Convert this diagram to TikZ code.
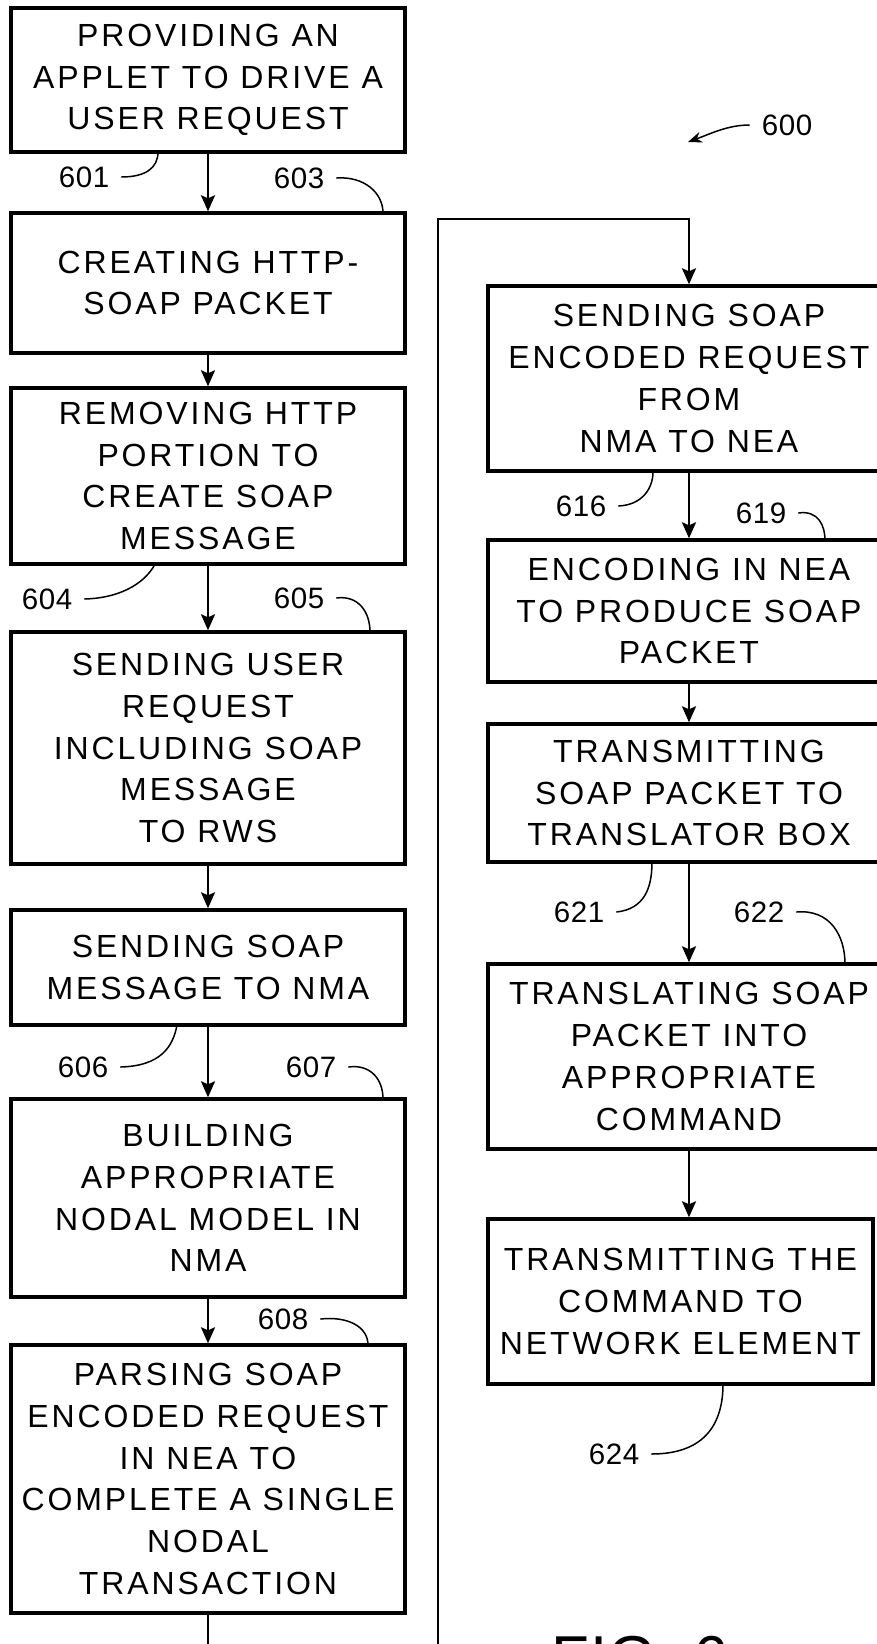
\documentclass[tikz,border=0pt]{standalone}
\usepackage{fontspec}
\setmainfont{Liberation Sans}
\newfontfamily\boxfont{Liberation Sans}[LetterSpace=9]
\newfontfamily\labelfont{Liberation Sans}[LetterSpace=2]
\usetikzlibrary{arrows.meta}
\newcommand{\boxtext}{\boxfont\fontsize{32}{41.7}\selectfont}
\newcommand{\labtext}{\labelfont\fontsize{29.5}{30}\selectfont}
\begin{document}
\begin{tikzpicture}[x=1pt,y=-1pt,
  lbox/.style={draw, line width=3.4pt, minimum width=394pt, align=center, inner sep=0pt, font=\boxtext},
  rbox/.style={draw, line width=3.4pt, minimum width=402pt, align=center, inner sep=0pt, font=\boxtext},
  conn/.style={line width=2.4pt, -{Stealth[length=16pt,width=14pt,inset=3pt]}},
  lab/.style={font=\labtext, inner xsep=12pt, inner ysep=0pt},
  leader/.style={line width=1.5pt}]
\useasboundingbox (0,0) rectangle (877,1644);
% left column
\node[lbox, minimum height=144pt] (b1) at (208,80) {PROVIDING AN\\APPLET TO DRIVE A\\USER REQUEST};
\node[lbox, minimum height=140pt] (b2) at (208,283) {CREATING HTTP-\\SOAP PACKET};
\node[lbox, minimum height=176pt] (b3) at (208,476) {REMOVING HTTP\\PORTION TO\\CREATE SOAP\\MESSAGE};
\node[lbox, minimum height=232pt] (b4) at (208,748) {SENDING USER\\REQUEST\\INCLUDING SOAP\\MESSAGE\\TO RWS};
\node[lbox, minimum height=115pt] (b5) at (208,967.5) {SENDING SOAP\\MESSAGE TO NMA};
\node[lbox, minimum height=198pt] (b6) at (208,1198) {BUILDING\\APPROPRIATE\\NODAL MODEL IN\\NMA};
\node[lbox, minimum height=268pt] (b7) at (208,1479) {PARSING SOAP\\ENCODED REQUEST\\IN NEA TO\\COMPLETE A SINGLE\\NODAL\\TRANSACTION};
% right column
\node[rbox, minimum height=185pt] (r1) at (689,378.5) {SENDING SOAP\\ENCODED REQUEST\\FROM\\NMA TO NEA};
\node[rbox, minimum height=142pt] (r2) at (689,611) {ENCODING IN NEA\\TO PRODUCE SOAP\\PACKET};
\node[rbox, minimum height=138pt] (r3) at (689,793) {TRANSMITTING\\SOAP PACKET TO\\TRANSLATOR BOX};
\node[rbox, minimum height=185pt] (r4) at (689,1056.5) {TRANSLATING SOAP\\PACKET INTO\\APPROPRIATE\\COMMAND};
\node[rbox, minimum height=165pt, minimum width=385pt] (r5) at (680.5,1301.5) {TRANSMITTING THE\\COMMAND TO\\NETWORK ELEMENT};
% flow arrows
\draw[conn] (b1.south) -- (b2.north);
\draw[conn] (b2.south) -- (b3.north);
\draw[conn] (b3.south) -- (b4.north);
\draw[conn] (b4.south) -- (b5.north);
\draw[conn] (b5.south) -- (b6.north);
\draw[conn] (b6.south) -- (b7.north);
\coordinate (c1) at (208,1700);
\coordinate (c2) at (438,1700);
\coordinate (c3) at (438,219);
\coordinate (c4) at (689,219);
\draw[conn] (b7.south) -- (c1) -- (c2) -- (c3) -- (c4) -- (r1.north);
\draw[conn] (r1.south) -- (r2.north);
\draw[conn] (r2.south) -- (r3.north);
\draw[conn] (r3.south) -- (r4.north);
\draw[conn] (r4.south) -- (r4.south |- r5.north);
% reference labels
\node[lab] (t600) at (787,125) {600};
\coordinate (a600) at (688,142);
\draw[line width=1.5pt, -{Stealth[length=14pt,width=11pt]}] (t600.west) .. controls +(-22,0) and +(22,-8) .. (a600);
\node[lab] (t601) at (84,177) {601};
\coordinate (l601) at (158,152);
\draw[leader] (t601.east) .. controls +(24,0) and +(0,16) .. (l601);
\node[lab] (t603) at (299,178) {603};
\coordinate (l603) at (383,213);
\draw[leader] (t603.east) .. controls +(28,-2) and +(0,-20) .. (l603);
\node[lab] (t604) at (47,599) {604};
\coordinate (l604) at (155,564);
\draw[leader] (t604.east) .. controls +(40,-1) and +(-8,16) .. (l604);
\node[lab] (t605) at (299,598) {605};
\coordinate (l605) at (370,632);
\draw[leader] (t605.east) .. controls +(22,-3) and +(0,-20) .. (l605);
\node[lab] (t606) at (83,1067) {606};
\coordinate (l606) at (177,1025);
\draw[leader] (t606.east) .. controls +(40,-1) and +(-4,22) .. (l606);
\node[lab] (t607) at (311,1067) {607};
\coordinate (l607) at (383,1099);
\draw[leader] (t607.east) .. controls +(22,-3) and +(0,-20) .. (l607);
\node[lab] (t608) at (283,1319) {608};
\coordinate (l608) at (368,1345);
\draw[leader] (t608.east) .. controls +(28,-3) and +(0,-18) .. (l608);
\node[lab] (t616) at (581,506) {616};
\coordinate (l616) at (653,472);
\draw[leader] (t616.east) .. controls +(24,-1) and +(0,16) .. (l616);
\node[lab] (t619) at (761,513) {619};
\coordinate (l619) at (825,540);
\draw[leader] (t619.east) .. controls +(20,-3) and +(0,-14) .. (l619);
\node[lab] (t621) at (579,912) {621};
\coordinate (l621) at (652,862);
\draw[leader] (t621.east) .. controls +(28,-3) and +(0,26) .. (l621);
\node[lab] (t622) at (759,912) {622};
\coordinate (l622) at (845,964);
\draw[leader] (t622.east) .. controls +(34,-3) and +(0,-28) .. (l622);
\node[lab] (t624) at (614,1454) {624};
\coordinate (l624) at (723,1384);
\draw[leader] (t624.east) .. controls +(55,0) and +(0,38) .. (l624);
% figure caption (cut off at bottom edge, as in the reference)
\node[anchor=base west, inner sep=0pt, font=\labelfont\fontsize{62}{70}\selectfont] (fig) at (551,1679) {FIG. 6};
\end{tikzpicture}
\end{document}
